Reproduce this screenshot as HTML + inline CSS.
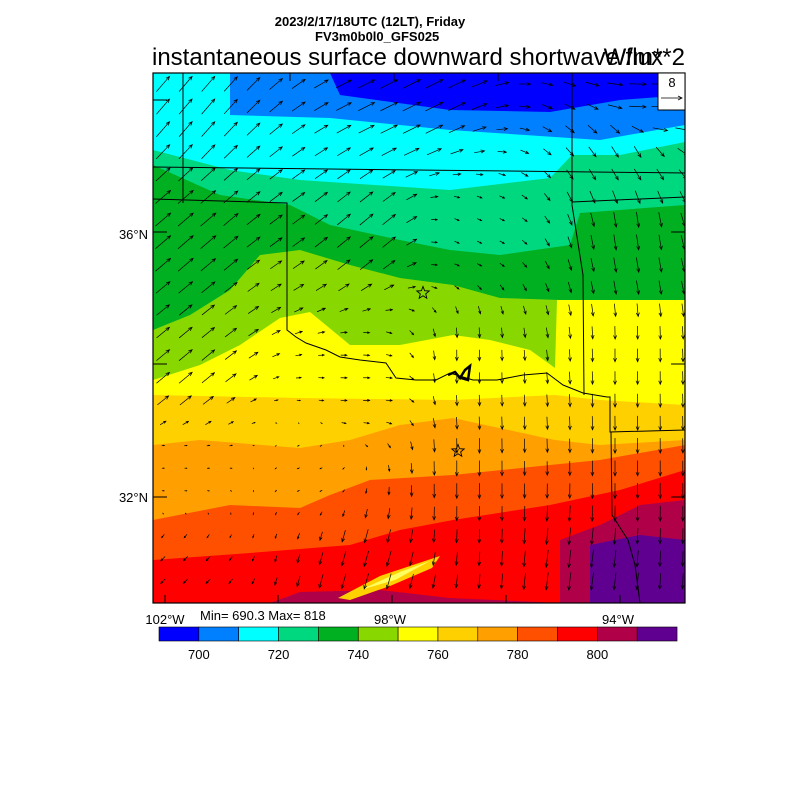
<!DOCTYPE html>
<html><head><style>
body{margin:0;background:#fff;width:800px;height:800px;overflow:hidden;font-family:"Liberation Sans",sans-serif}
</style></head><body>
<svg id="s" width="800" height="800" xmlns="http://www.w3.org/2000/svg" font-family="Liberation Sans, sans-serif">
<text x="370" y="26" font-size="13" font-weight="bold" text-anchor="middle">2023/2/17/18UTC (12LT), Friday</text>
<text x="315" y="41" font-size="13" font-weight="bold">FV3m0b0l0_GFS025</text>
<text x="152" y="65" font-size="24">instantaneous surface downward shortwave flux</text>
<text x="685" y="65" font-size="24" text-anchor="end">W/m**2</text>
<defs><clipPath id="c"><rect x="153" y="73" width="532" height="530"/></clipPath></defs>
<g clip-path="url(#c)" id="m"></g>
<rect x="153" y="73" width="532" height="530" fill="none" stroke="#000" stroke-width="1.2"/>
<rect x="658" y="73" width="27" height="37" fill="#fff" stroke="#000"/>
<text x="672" y="87" font-size="13" text-anchor="middle">8</text>
<line x1="661" y1="98" x2="682" y2="98" stroke="#000" stroke-width="0.8"/>
<path d="M678 96 L682 98 L678 100" fill="none" stroke="#000" stroke-width="0.8"/>
<text x="148" y="239" font-size="13" text-anchor="end">36°N</text>
<text x="148" y="502" font-size="13" text-anchor="end">32°N</text>
<text x="165" y="624" font-size="13" text-anchor="middle">102°W</text>
<text x="390" y="624" font-size="13" text-anchor="middle">98°W</text>
<text x="618" y="624" font-size="13" text-anchor="middle">94°W</text>
<text x="200" y="620" font-size="13">Min= 690.3 Max= 818</text>
<g id="cb"></g>
</svg>
<script>
var NS="http://www.w3.org/2000/svg";
function el(p,t,a){var e=document.createElementNS(NS,t);for(var k in a)e.setAttribute(k,a[k]);p.appendChild(e);return e;}
var cols=["#0000ff","#0080ff","#00ffff","#00d880","#00b020","#88d800","#ffff00","#ffd000","#ffa000","#ff5000","#ff0000","#b00048","#600090"];
var cb=document.getElementById("cb");
for(var i=0;i<13;i++){var x=159+i*39.85;el(cb,"rect",{x:x,y:627,width:39.85,height:14,fill:cols[i],stroke:"#000","stroke-width":0.6});}
["700","720","740","760","780","800"].forEach(function(t,i){var x=159+39.85*(1+2*i);var tx=el(cb,"text",{x:x,y:659,"font-size":13,"text-anchor":"middle"});tx.textContent=t;});
var m=document.getElementById("m");
el(m,"rect",{x:153,y:73,width:532,height:530,fill:cols[0]});
var B=[
[1,[[153,73],[330,73],[340,95],[450,110],[550,112],[620,100],[685,95]]],
[2,[[153,73],[230,73],[230,115],[330,118],[450,130],[600,140],[685,125]]],
[3,[[153,150],[230,170],[300,180],[450,190],[550,178],[572,155],[620,155],[685,142]]],
[4,[[153,165],[220,195],[290,205],[330,225],[400,240],[450,250],[500,255],[570,245],[580,213],[685,205]]],
[5,[[153,330],[190,315],[230,290],[260,255],[300,250],[350,265],[400,278],[453,285],[500,298],[560,300],[600,302],[685,302]]],
[6,[[153,380],[200,365],[240,345],[280,318],[310,312],[350,345],[400,345],[453,335],[490,340],[530,350],[555,368],[557,300],[685,300]]],
[7,[[153,395],[300,398],[453,400],[555,395],[600,400],[685,405]]],
[8,[[153,445],[200,440],[300,448],[350,440],[400,425],[453,418],[555,440],[600,445],[685,440]]],
[9,[[153,520],[230,505],[300,508],[330,495],[370,480],[453,475],[550,465],[600,460],[685,445]]],
[10,[[153,560],[250,553],[350,545],[400,530],[453,520],[550,505],[620,490],[685,470]]]
];
B.forEach(function(b){var p=b[1].map(function(q){return q.join(",")}).join(" ");p+=" 685,603 153,603";el(m,"polygon",{points:p,fill:cols[b[0]]});});
el(m,"polygon",{points:"270,603 300,592 380,590 450,598 560,603",fill:cols[11]});
el(m,"polygon",{points:"560,603 560,540 600,525 640,505 685,500 685,603",fill:cols[11]});
el(m,"polygon",{points:"590,603 590,545 640,535 685,540 685,603",fill:cols[12]});
el(m,"polygon",{points:"338,598 380,576 440,556 432,568 390,586 350,600",fill:"#ffd000"});
el(m,"polygon",{points:"360,590 400,572 430,561 395,580",fill:"#ffff60"});
var bp=["M153 167 L685 173","M183 73 L183 203","M153 199 L287 203 L287 330 L296 337 L306 343 L326 350 L340 357 L360 360 L386 363 L396 378 L416 380 L436 380 L450 373 L473 380 L497 380 L523 375 L547 373 L563 385 L583 393 L607 397 L610 397 L610 432 L685 430",
"M572 73 L572 205 L583 275 L584 395","M572 202 L685 197","M611 432 L612 515 L628 540 L635 565 L640 603"];
bp.forEach(function(d){el(m,"path",{d:d,fill:"none",stroke:"#000","stroke-width":1});});
el(m,"path",{d:"M448 375 L455 372 L460 378 L465 370 L470 366 L468 380 L458 377",fill:"none",stroke:"#000","stroke-width":2.5});
[165,278,392,506,620].forEach(function(x){el(m,"line",{x1:x,y1:603,x2:x,y2:595,stroke:"#000"});});
[290,394,498].forEach(function(x){el(m,"line",{x1:x,y1:73,x2:x,y2:81,stroke:"#000"});});
[100,232,364,497].forEach(function(y){el(m,"line",{x1:153,y1:y,x2:167,y2:y,stroke:"#000"});el(m,"line",{x1:671,y1:y,x2:685,y2:y,stroke:"#000"});});
function star(cx,cy){var p=[];for(var i=0;i<10;i++){var r=i%2?2.8:6.5,a=-Math.PI/2+i*Math.PI/5;p.push((cx+r*Math.cos(a)).toFixed(1)+","+(cy+r*Math.sin(a)).toFixed(1));}el(m,"polygon",{points:p.join(" "),fill:"none",stroke:"#000","stroke-width":0.9});}
star(423,293);star(458,451);
var A=[[0.05,0.05,6,7],[0.5,0.05,8,4],[0.95,0.05,8,0],[0.9,0.17,3,-5],
[0.05,0.3,7,6],[0.4,0.3,6,5],[0.6,0.3,2,-1],[0.9,0.3,1,-7],
[0.05,0.55,6,5],[0.4,0.6,3,0],[0.6,0.55,0,-5],[0.9,0.55,0,-6],
[0.05,0.75,1,0],[0.3,0.75,-1,-0.5],[0.6,0.75,0,-7],[0.9,0.75,0,-7],
[0.05,0.95,-2,-2],[0.4,0.95,-2,-7],[0.8,0.95,-1,-8]];
for(var y=84;y<603;y+=22.6){for(var x=163;x<685;x+=22.6){
 var fy=(y-73)/530, fx=(x-153)/532, su=0,sv=0,sw=0;
 A.forEach(function(a){var d=Math.pow((fx-a[0])*(fx-a[0])+(fy-a[1])*(fy-a[1]),1.5)+1e-6;var w=1/d;su+=w*a[2];sv+=w*a[3];sw+=w;});
 var u=su/sw,v=sv/sw,mag=Math.sqrt(u*u+v*v);if(mag<0.3)continue;
 var len=Math.min(mag*2.2,20),ang=Math.atan2(-v,u);
 var dx=Math.cos(ang)*len/2,dy=Math.sin(ang)*len/2;
 var x1=x-dx,y1=y-dy,x2=x+dx,y2=y+dy,h=Math.min(4,len*0.4),b1=ang+Math.PI-0.4,b2=ang+Math.PI+0.4;
 el(m,"path",{d:"M"+x1+" "+y1+" L"+x2+" "+y2+" M"+(x2+h*Math.cos(b1))+" "+(y2+h*Math.sin(b1))+" L"+x2+" "+y2+" L"+(x2+h*Math.cos(b2))+" "+(y2+h*Math.sin(b2)),fill:"none",stroke:"#000","stroke-width":0.7});
}}
</script>
</body></html>
